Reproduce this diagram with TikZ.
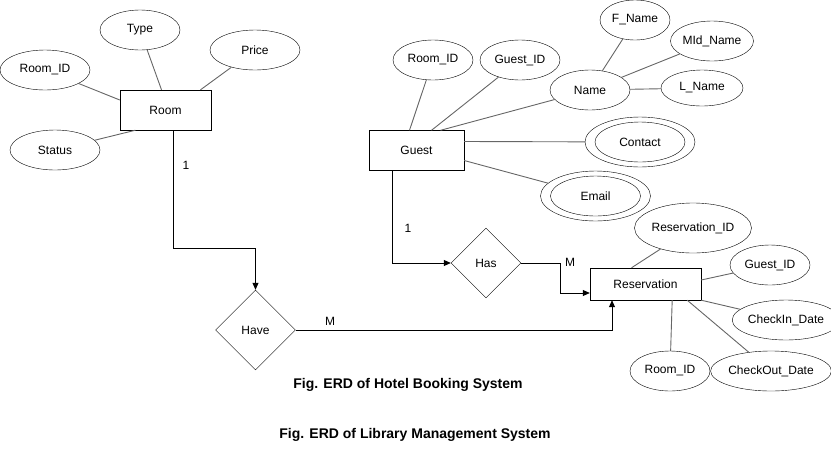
\documentclass[tikz,border=0pt]{standalone}
\usepackage{fontspec}
\setmainfont{Liberation Sans}
\usetikzlibrary{shapes.geometric, arrows.meta, positioning}

\tikzset{
    entity/.style={draw, rectangle, minimum width=#1, minimum height=40pt, inner sep=0pt},
    entity/.default=91pt,
    attr/.style={draw, ellipse, minimum width=#1, minimum height=40pt, inner sep=0pt},
    attr/.default=80pt,
    multi/.style={draw, ellipse, minimum width=110pt, minimum height=50pt, inner sep=0pt},
    rel/.style={draw, diamond, minimum width=#1, minimum height=#1, inner sep=0pt, aspect=1},
    link/.style={draw=black!60, line width=0.9pt},
    flow/.style={-{Triangle[length=7pt,width=6pt]}, line width=0.8pt},
    txt/.style={font=\fontsize{12}{14}\selectfont},
    caption/.style={font=\fontsize{14}{16}\selectfont\bfseries}
}

\begin{document}
\begin{tikzpicture}[x=1pt, y=-1pt, every node/.style={txt}]
    \useasboundingbox (0,0) rectangle (831,451);

        % Room entity
        \node[entity] (room) at (165.5,110) {Room};
        \node[attr=80pt] (type) at (140,30) {Type};
        \node[attr=90pt] (price) at (255,50) {Price};
        \node[attr=90pt] (roomid) at (45,70) {Room\_ID};
        \node[attr=90pt] (status) at (55,150) {Status};

        \draw[link] (type) -- ([xshift=-4pt]room.north);
        \draw[link] (price) -- ([xshift=35pt]room.north);
        \draw[link] (roomid) -- ([yshift=10pt]room.west);
        \draw[link] (status) -- ([xshift=-30pt]room.south);

        % Guest entity
        \node[entity=95pt] (guest) at (416.5,150.5) {Guest};
        \node[attr] (groomid) at (433,60) {Room\_ID};
        \node[attr] (gguestid) at (520,60) {Guest\_ID};
        \node[attr] (name) at (590,90) {Name};
        \node[attr=70pt] (fname) at (635,20) {F\_Name};
        \node[attr=82pt] (mname) at (712,41) {MId\_Name};
        \node[attr=82pt, minimum height=36pt] (lname) at (702,88) {L\_Name};
        \node[multi] (contact) at (640,142) {};
        \draw (contact.center) ellipse (45 and 20);
        \node at (contact.center) {Contact};
        \node[multi] (email) at (595.5,196) {};
        \draw (email.center) ellipse (45 and 20);
        \node at (email.center) {Email};

        \draw[link] (groomid) -- ([xshift=-7pt]guest.north);
        \draw[link] (gguestid) -- ([xshift=15pt]guest.north);
        \draw[link] (name) -- ([xshift=24pt]guest.north);
        \draw[link] (contact) -- ([yshift=9pt]guest.east);
        \draw[link] (email) -- ([yshift=-10pt]guest.east);
        \draw[link] (name) -- (fname);
        \draw[link] (name) -- (mname);
        \draw[link] (name) -- (lname);

        % Reservation entity
        \node[entity=111pt, minimum height=32pt] (res) at (645.5,284) {Reservation};
        \node[attr=100pt, minimum height=50pt] (resid) at (693,228) {Reservation\_ID};
        \node[attr] (rguestid) at (770,265) {Guest\_ID};
        \node[attr=88pt] (checkin) at (786,320) {CheckIn\_Date};
        \node[attr=100pt] (checkout) at (771,371) {CheckOut\_Date};
        \node[attr] (rroomid) at (670,371) {Room\_ID};

        \draw[link] (resid) -- ([xshift=-14pt]res.north);
        \draw[link] (rguestid) -- ([yshift=4pt]res.east);
        \draw[link] (checkin) -- (res.south east);
        \draw[link] (checkout) -- ([xshift=-14pt]res.south east);
        \draw[link] (rroomid) -- ([xshift=-29pt]res.south east);

        % Relationships
        \node[rel=80pt] (have) at (255.5,330) {Have};
        \node[rel=70pt] (has) at (486,263) {Has};

        \draw[flow] ([xshift=8pt]room.south) |- ++(0,118) -| (have.north);
        \node at (186,165) {1};
        \draw[flow] (have.east) -| (res.south -| 612,0);
        \node at (330,321) {M};

        \draw[flow] ([xshift=-24.5pt]guest.south) |- (has.west);
        \node at (408,228) {1};
        \draw[flow] (has.east) -- ++(39,0) |- ([yshift=-9pt]res.west);
        \node at (570,262) {M};

        % Captions
        \node[caption] (cap1) at (408,385) {Fig. ERD of Hotel Booking System};
        \node[caption] (cap2) at (415,435) {Fig. ERD of Library Management System};
    \end{tikzpicture}
\end{document}
